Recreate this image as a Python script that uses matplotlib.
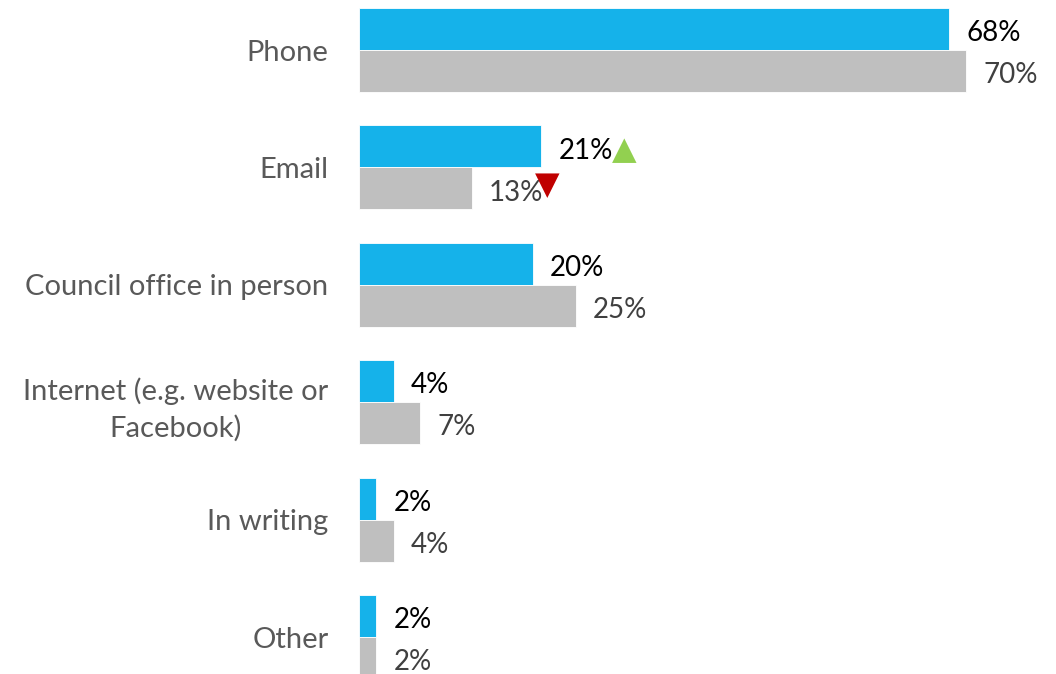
import matplotlib.pyplot as plt
import numpy as np

categories = ["Phone", "Email", "Council office in person",
              "Internet (e.g. website or\nFacebook)", "In writing", "Other"]
current = [68, 21, 20, 4, 2, 2]
previous = [70, 13, 25, 7, 4, 2]
# significance markers: (category index, series)
sig_up = [(1, "current")]
sig_down = [(1, "previous")]

BLUE = "#15B2EA"
GREY = "#BFBFBF"
LABEL = "#595959"
FONT = "Lato"

fig = plt.figure(figsize=(10.56, 6.74), dpi=100)
ax = fig.add_axes([359 / 1056, 0, 694 / 1056, 1])

y = np.arange(len(categories))
h = 0.358
b1 = ax.barh(y - h / 2, current, height=h, color=BLUE, edgecolor="white", linewidth=0.6)
b2 = ax.barh(y + h / 2, previous, height=h, color=GREY, edgecolor="white", linewidth=0.6)

ax.set_xlim(0, 80)
ax.set_ylim(5.315, -0.426)
ax.set_yticks(y)
ax.set_yticklabels(categories, fontsize=21, color=LABEL, family=FONT,
                   multialignment="center", linespacing=1.45)
ax.tick_params(axis="y", length=0, pad=22)
ax.set_xticks([])
for s in ax.spines.values():
    s.set_visible(False)

texts = {}
for bars, vals, col, key in [(b1, current, "black", "current"), (b2, previous, "#404040", "previous")]:
    for i, (bar, v) in enumerate(zip(bars, vals)):
        t = ax.annotate(f"{v}%", xy=(v, bar.get_y() + bar.get_height() / 2),
                        xytext=(12.5, -3), textcoords="offset points",
                        ha="left", va="center", fontsize=20, color=col, family=FONT)
        texts[(i, key)] = t

for i, key in sig_up:
    ax.annotate("▲", xy=(1, 0.5), xycoords=texts[(i, key)], xytext=(-1, 0),
                textcoords="offset points", ha="left", va="center",
                fontsize=23, color="#92D050", family="DejaVu Sans")
for i, key in sig_down:
    ax.annotate("▼", xy=(1, 0.5), xycoords=texts[(i, key)], xytext=(-6, 5),
                textcoords="offset points", ha="left", va="center",
                fontsize=23, color="#C00000", family="DejaVu Sans")

fig.savefig("out.png", dpi=100)
